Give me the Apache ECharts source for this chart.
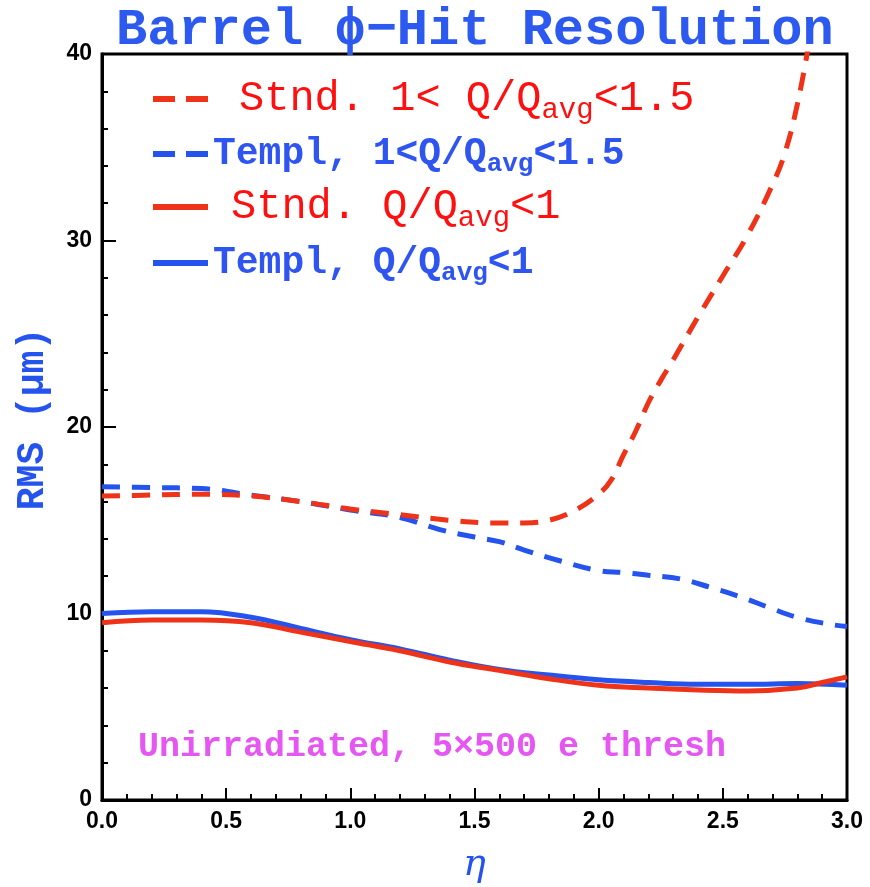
<!DOCTYPE html>
<html><head><meta charset="utf-8">
<script src="https://cdn.jsdelivr.net/npm/echarts@6/dist/echarts.min.js"></script>
<style>html,body{margin:0;padding:0;background:#fff;overflow:hidden}#c{width:870px;height:887px}</style>
</head><body><div id="c"></div>
<script>
// ---- data (eta, RMS in micrometres) ----
var stndHighEta = [0, 0.2, 0.4, 0.6, 0.8, 1.0, 1.2, 1.4, 1.6, 1.7, 1.8, 1.9, 2.0, 2.05, 2.1, 2.15, 2.2, 2.25, 2.3, 2.4, 2.5, 2.6, 2.7, 2.75, 2.8, 2.85];
var stndHighVal = [16.3, 16.35, 16.4, 16.3, 16.0, 15.6, 15.3, 15.0, 14.85, 14.85, 15.0, 15.5, 16.4, 17.15, 18.5, 19.8, 21.3, 22.5, 23.6, 25.9, 28.1, 30.3, 33.0, 34.7, 37.3, 40.8];
var templHighEta = [0, 0.2, 0.4, 0.6, 0.8, 1.0, 1.2, 1.36, 1.5, 1.6, 1.7, 1.85, 2.0, 2.1, 2.2, 2.33, 2.45, 2.57, 2.69, 2.81, 2.94, 3.0];
var templHighVal = [16.8, 16.75, 16.7, 16.35, 16.0, 15.55, 15.15, 14.5, 14.1, 13.85, 13.4, 12.8, 12.3, 12.2, 12.05, 11.85, 11.4, 10.9, 10.3, 9.75, 9.4, 9.3];
var stndLowEta = [0, 0.2, 0.4, 0.6, 0.8, 1.0, 1.2, 1.4, 1.6, 1.8, 2.0, 2.2, 2.4, 2.6, 2.8, 2.9, 3.0];
var stndLowVal = [9.5, 9.65, 9.65, 9.5, 9.0, 8.5, 8.0, 7.4, 6.95, 6.5, 6.15, 6.0, 5.9, 5.85, 6.0, 6.3, 6.6];
var templLowEta = [0, 0.2, 0.4, 0.6, 0.8, 1.0, 1.2, 1.4, 1.6, 1.8, 2.0, 2.2, 2.4, 2.6, 2.8, 3.0];
var templLowVal = [10.0, 10.1, 10.1, 9.8, 9.2, 8.6, 8.1, 7.5, 7.0, 6.7, 6.45, 6.3, 6.2, 6.2, 6.25, 6.15];
var seriesNames = ['Stnd. 1< Q/Qavg<1.5', 'Templ, 1<Q/Qavg<1.5', 'Stnd. Q/Qavg<1', 'Templ, Q/Qavg<1'];
var xTicks = [0, 0.5, 1.0, 1.5, 2.0, 2.5, 3.0];
var yTicks = [0, 10, 20, 30, 40];

function pairs(xs, ys) { return xs.map(function (x, i) { return [x, ys[i]]; }); }

var RED = '#ee3318', BLUE = '#2453ee', REDTXT = '#ff1010', BLUETXT = '#2f55f0';
var chart = echarts.init(document.getElementById('c'), null, { renderer: 'canvas' });

function legendFor(name, top, color, bold, size, subSize, padLeft, dash) {
  var parts = name.split('avg');
  var fw = bold ? 'bold' : 'normal';
  return {
    data: [name], left: 150, top: top, orient: 'horizontal',
    itemWidth: 55, itemHeight: 20, itemGap: 0, padding: 0,
    selectedMode: false,
    itemStyle: { opacity: 0 },
    lineStyle: { width: 6, type: dash },
    formatter: function () { return parts[0] + '{s|avg}' + parts[1]; },
    textStyle: {
      color: color, fontFamily: 'Liberation Mono', fontWeight: fw,
      fontSize: size, padding: [0, 0, 0, padLeft],
      rich: { s: { fontSize: subSize, fontFamily: 'Liberation Mono', fontWeight: fw, color: color, padding: [Math.round(size * 0.55), 0, 0, 0] } }
    }
  };
}

var option = {
  backgroundColor: '#fff',
  animation: false,
  title: {
    text: 'Barrel \u03D5\u2212Hit Resolution', left: 111, top: 0,
    textStyle: { fontFamily: 'Liberation Mono', fontWeight: 'bold', fontSize: 52, color: '#2c5af0' }
  },
  legend: [
    legendFor(seriesNames[0], 78, REDTXT, false, 42, 29, 26, [22, 11]),
    legendFor(seriesNames[1], 135, BLUETXT, true, 38, 26, 0, [22, 11]),
    legendFor(seriesNames[2], 186, REDTXT, false, 42, 29, 18, 'solid'),
    legendFor(seriesNames[3], 244, BLUETXT, true, 38, 26, 0, 'solid')
  ],
  grid: { left: 102, right: 23, top: 54, bottom: 87, show: true, borderColor: '#000', borderWidth: 3,
    backgroundColor: 'transparent', containLabel: false, outerBoundsMode: 'none' },
  xAxis: {
    type: 'value', min: 0, max: 3, interval: 0.5,
    name: '\u03B7', nameLocation: 'middle', nameGap: 46,
    nameTextStyle: { color: BLUE, fontSize: 38, fontStyle: 'italic', fontFamily: 'DejaVu Serif' },
    axisLine: { show: true, onZero: false, lineStyle: { color: '#000', width: 3 } },
    axisTick: { show: true, inside: true, length: 12, lineStyle: { color: '#000', width: 2 } },
    minorTick: { show: true, splitNumber: 5, length: 6, lineStyle: { color: '#000', width: 2 } },
    splitLine: { show: false },
    axisLabel: { margin: 10, color: '#000', fontFamily: 'Liberation Sans', fontWeight: 'bold', fontSize: 23,
      formatter: function (v) { return xTicks.indexOf(v) >= 0 ? v.toFixed(1) : ''; } }
  },
  yAxis: {
    type: 'value', min: 0, max: 40, interval: 10,
    name: 'RMS (\u03BCm)', nameLocation: 'middle', nameGap: 50,
    nameTextStyle: { color: BLUE, fontSize: 38, fontWeight: 'bold', fontFamily: 'Liberation Mono', padding: [0, 0, 0, 16] },
    axisLine: { show: true, onZero: false, lineStyle: { color: '#000', width: 3 } },
    axisTick: { show: true, inside: true, length: 14, lineStyle: { color: '#000', width: 2 } },
    minorTick: { show: true, splitNumber: 5, length: 6, lineStyle: { color: '#000', width: 2 } },
    splitLine: { show: false },
    axisLabel: { margin: 10, color: '#000', fontFamily: 'Liberation Sans', fontWeight: 'bold', fontSize: 23,
      formatter: function (v) { return yTicks.indexOf(v) >= 0 ? String(v) : ''; } }
  },
  graphic: [{
    type: 'text', left: 138, top: 730,
    style: { text: 'Unirradiated, 5\u00D7500 e thresh', fill: '#e656f2', font: 'bold 35px "Liberation Mono"' }
  }],
  series: [
    { name: seriesNames[3], type: 'line', data: pairs(templLowEta, templLowVal), smooth: 0.4, symbol: 'none', clip: true,
      lineStyle: { color: BLUE, width: 5, type: 'solid' }, itemStyle: { color: BLUE }, z: 2 },
    { name: seriesNames[1], type: 'line', data: pairs(templHighEta, templHighVal), smooth: 0.4, symbol: 'none', clip: true,
      lineStyle: { color: BLUE, width: 5, type: [18, 12] }, itemStyle: { color: BLUE }, z: 2 },
    { name: seriesNames[2], type: 'line', data: pairs(stndLowEta, stndLowVal), smooth: 0.4, symbol: 'none', clip: true,
      lineStyle: { color: RED, width: 5, type: 'solid' }, itemStyle: { color: RED }, z: 3 },
    { name: seriesNames[0], type: 'line', data: pairs(stndHighEta, stndHighVal), smooth: 0.4, symbol: 'none', clip: true,
      lineStyle: { color: RED, width: 5, type: [18, 12] }, itemStyle: { color: RED }, z: 3 }
  ]
};
chart.setOption(option);
</script></body></html>
